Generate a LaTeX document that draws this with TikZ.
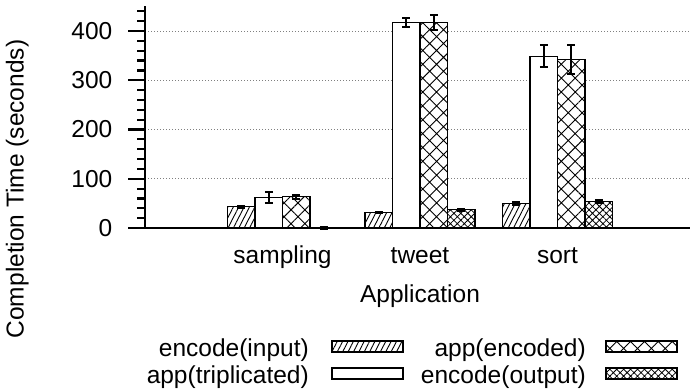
\documentclass[tikz,border=0pt]{standalone}
\usepackage{fontspec}
\setmainfont{Liberation Sans}
\usetikzlibrary{patterns.meta}
\tikzset{
 barbox/.style={draw=black, line width=1.1pt},
 encin/.style={barbox, preaction={fill=white}, pattern={Lines[angle=63, distance=4.8pt, line width=0.9pt]}},
 apptri/.style={barbox, fill=white},
 appenc/.style={barbox, preaction={fill=white}, pattern={Hatch[angle=45, distance=9.8pt, line width=0.9pt]}},
 encout/.style={barbox, preaction={fill=white}, pattern={Hatch[angle=45, distance=4.9pt, line width=0.8pt]}},
 errbar/.style={line width=2pt},
 gridline/.style={gray, line width=0.9pt, dash pattern=on 1pt off 2pt},
 axisline/.style={line width=2.8pt},
 tickmark/.style={line width=2.2pt},
 lbl/.style={inner sep=0pt, font=\fontsize{24.5}{29}\selectfont},
}
\newcommand\chartbar[3]{\draw[#1] (#2,0) rectangle ++(27.5,#3);}
\newcommand\charterr[3]{\draw[errbar] (#1+13.75,#2) -- (#1+13.75,#3) (#1+9.75,#2) -- (#1+17.75,#2) (#1+9.75,#3) -- (#1+17.75,#3);}
\begin{document}
\begin{tikzpicture}[x=1pt,y=-1pt]
\useasboundingbox (0,0) rectangle (690,390);
\begin{scope}[shift={(0,228)}, y=0.4925pt]
 % grid
 \foreach \v in {100,200,300,400} \draw[gridline] (148,\v) -- (692,\v);
 % bars
 \chartbar{encin}{227.5}{43}
 \chartbar{apptri}{255}{62}
 \chartbar{appenc}{282.5}{64}
 \chartbar{encin}{365}{32}
 \chartbar{apptri}{392.5}{418}
 \chartbar{appenc}{420}{418}
 \chartbar{encout}{447.5}{37}
 \chartbar{encin}{502.5}{50}
 \chartbar{apptri}{530}{348}
 \chartbar{appenc}{557.5}{342}
 \chartbar{encout}{585}{54}
 % error bars
 \charterr{227.5}{41.5}{44.5}
 \charterr{255}{50}{72.5}
 \charterr{282.5}{59}{68}
 \charterr{310}{-1.5}{1.5}
 \charterr{365}{30.5}{33.5}
 \charterr{392.5}{409}{427}
 \charterr{420}{403}{432}
 \charterr{447.5}{35.5}{38.5}
 \charterr{502.5}{47}{53}
 \charterr{530}{326}{371}
 \charterr{557.5}{313}{372}
 \charterr{585}{51}{57}
 % axes
 \foreach \v in {20,40,60,80,120,140,160,180,220,240,260,280,320,340,360,380,420,440}
   \draw[tickmark] (137,\v) -- (146,\v);
 \foreach \v in {0,100,200,300,400}
   \draw[tickmark] (128,\v) -- (146,\v);
 \draw[axisline] (145,450) -- (145,0) -- (695,0);
 % tick labels
 \foreach \v in {0,100,200,300,400}
   \node[lbl, anchor=east] (t\v) at (112.5,\v) {\v};
\end{scope}
% category labels
\node[lbl, anchor=base] (lsamp) at (282.5,263) {sampling};
\node[lbl, anchor=base] (ltweet) at (420,263) {tweet};
\node[lbl, anchor=base] (lsort) at (557.5,263) {sort};
\node[lbl, anchor=base] (xlab) at (420,302) {Application};
\node[lbl, anchor=base, rotate=90] (ylab) at (23.5,189) {Completion Time (seconds)};
% legend
\node[lbl, anchor=base east] (k1) at (309,356.5) {encode(input)};
\draw[encin] (332,341) rectangle (403,352);
\node[lbl, anchor=base east] (k2) at (309,383.5) {app(triplicated)};
\draw[apptri] (332,368) rectangle (403,379);
\node[lbl, anchor=base east] (k3) at (586,356.5) {app(encoded)};
\draw[appenc] (606,341) rectangle (677,352);
\node[lbl, anchor=base east] (k4) at (586,383.5) {encode(output)};
\draw[encout] (606,368) rectangle (677,379);
\end{tikzpicture}
\end{document}
